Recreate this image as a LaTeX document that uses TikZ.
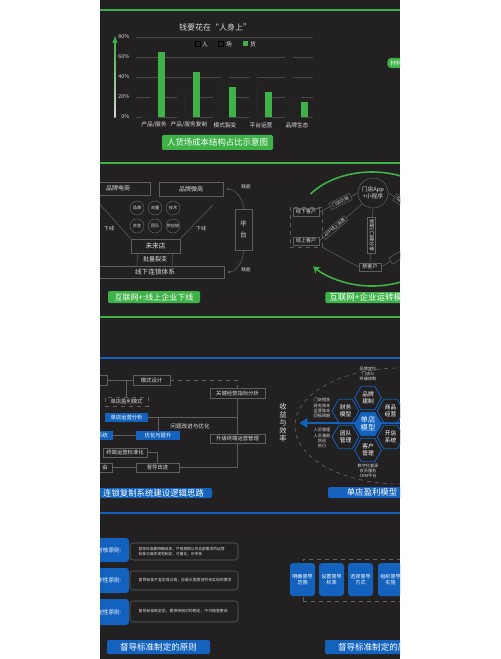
\documentclass[tikz,border=0pt]{standalone}
\usepackage{fontspec}
\setmainfont{Noto Sans CJK SC}
\usetikzlibrary{calc,shapes.geometric,arrows.meta}
\newlength\PX \setlength\PX{0.75pt}
\definecolor{bg}{RGB}{35,32,33}
\definecolor{gr}{RGB}{62,178,72}
\definecolor{bl}{RGB}{18,98,190}
\definecolor{ln}{RGB}{95,95,95}
\definecolor{tx}{RGB}{220,220,220}
\definecolor{grid}{RGB}{72,72,72}
\begin{document}
\begin{tikzpicture}[x=0.75pt,y=-0.75pt,
  fs/.style 2 args={font=\fontsize{#1}{#2}\selectfont},
  gbox/.style={draw=ln, line width=0.4pt, fill=bg, text=tx, inner sep=0pt},
  dbox/.style={gbox, dashed},
  bbox/.style={fill=bl, text=white, inner sep=0pt},
  glab/.style={fill=gr, text=white, inner sep=0pt, rounded corners=1pt},
  blab/.style={fill=bl, text=white, inner sep=0pt, rounded corners=1pt},
  conn/.style={draw=ln, line width=0.4pt},
  barc/.style={draw=grid!120, line width=0.5pt},
  hexo/.style={regular polygon, regular polygon sides=6, minimum size=27\PX, inner sep=0pt, draw=bl, line width=0.6pt, fill=bg, text=white, align=center, fs={4.3pt}{5pt}},
  ann/.style={text=tx, align=center, fs={3.1pt}{3.8pt}},
  lbl/.style={text=tx}
]
\fill[white] (0,0) rectangle (500,659);
\fill[bg] (100,0) rectangle (400,659);
\useasboundingbox (0,0) rectangle (500,659);
\begin{scope}
\clip (100,0) rectangle (400,659);

% ================= Section 1 =================
\draw[gr, line width=1.5pt] (100,10) -- (400,10);
\node[lbl, fs={6pt}{7pt}] (title) at (215,27) {钱要花在“人身上”};
\shade[bottom color=white!70!gray, top color=gr] (114.4,118) rectangle (115.6,41);
\fill[gr] (112.5,43) -- (115,36) -- (117.5,43) -- cycle;
\foreach \v in {0,20,40,60,80}{
  \draw[grid, line width=0.4pt] (136,{117-\v}) -- (313,{117-\v});
  \node[lbl, fs={4pt}{4pt}, anchor=east] (yl\v) at (134,{117-\v}) {\v\%};
}
\foreach \c/\a/\b/\g in {153/15/20/65,188/25/30/45,224/30/40/30,260/45/30/25,296/65/20/15}{
  \draw[barc, fill=bg] (\c-11,117) rectangle (\c-4,{117-\a});
  \draw[barc, fill=bg] (\c-3,117) rectangle (\c+4,{117-\b});
  \fill[gr] (\c+5,117) rectangle (\c+12,{117-\g});
}
\node[draw=grid!150, fill=bg, minimum size=5\PX, inner sep=0] (lg1) at (197.5,44) {};
\node[lbl, fs={4.3pt}{4.5pt}] (lt1) at (205,44) {人};
\node[draw=grid!150, fill=bg, minimum size=5\PX, inner sep=0] (lg2) at (221,44) {};
\node[lbl, fs={4.3pt}{4.5pt}] (lt2) at (229,44) {场};
\node[fill=gr, minimum size=5\PX, inner sep=0] (lg3) at (245.5,44) {};
\node[lbl, fs={4.3pt}{4.5pt}] (lt3) at (253,44) {货};
\node[lbl, fs={4.3pt}{4.5pt}] (k1) at (154,125) {产品/服务};
\node[lbl, fs={4.3pt}{4.5pt}] (k2) at (189,125) {产品/服务复制};
\node[lbl, fs={4.3pt}{4.5pt}] (k3) at (225,125) {模式裂变};
\node[lbl, fs={4.3pt}{4.5pt}] (k4) at (261,125) {平台运营};
\node[lbl, fs={4.3pt}{4.5pt}] (k5) at (297,125) {品牌生态};
\node[fill=gr, text=white, rounded corners=4\PX, inner xsep=3\PX, inner ysep=2.5\PX, anchor=west, fs={4.3pt}{4.5pt}] (pill) at (387,63) {材料};
\node[glab, minimum width=111\PX, minimum height=15\PX, fs={6.3pt}{7pt}] (lab1) at (217.5,142.5) {人货场成本结构占比示意图};

% ================= Section 2 =================
\draw[gr, line width=1.5pt] (100,163) -- (400,163);
\draw[gr, line width=1.5pt] (100,317) -- (400,317);
\node[gbox, minimum width=64\PX, minimum height=13\PX, fs={4.5pt}{5pt}] (dsh) at (118,188.5) {品牌电商};
\node[gbox, minimum width=64\PX, minimum height=14\PX, fs={4.5pt}{5pt}] (wsh) at (191,189) {品牌微商};
\foreach \nm/\xx/\yy/\t in {c1/137/208/品牌, c2/155/208/流量, c3/173/208/技术, c4/137/226/资金, c5/155/226/团队, c6/173/226/供应链}{
  \node[circle, gbox, minimum size=14\PX, fs={3.1pt}{3.5pt}] (\nm) at (\xx,\yy) {\t};
}
\node[lbl, fs={3.8pt}{4pt}] (xx1) at (109,229) {下线};
\node[lbl, fs={3.8pt}{4pt}] (xx2) at (201,229) {下线};
\node[gbox, minimum width=49\PX, minimum height=14\PX, fs={5pt}{5pt}] (wld) at (155.5,246) {未来店};
\node[lbl, fs={4.5pt}{5pt}] (plv) at (155,259.5) {批量裂变};
\node[gbox, minimum width=138\PX, minimum height=12\PX, fs={5pt}{5pt}] (xxl) at (155,272) {线下连锁体系};
\coordinate (dl) at (96,200);
\coordinate (dr) at (213,205);
\draw[conn] (dl) -- (wld.north west);
\draw[conn] (dr) -- (wld.north east);
\draw[conn] ($(wld.south)+(-18,0)$) -- ($(xxl.north)+(-18,0)$);
\draw[conn] ($(wld.south)+(17,0)$) -- ($(xxl.north)+(17,0)$);
\node[gbox, minimum width=17\PX, minimum height=41\PX, align=center, fs={5pt}{8pt}] (pt) at (243.5,229.5) {平\\台};
\node[lbl, fs={3.5pt}{4pt}] (fn1) at (246,187) {赋能};
\node[lbl, fs={3.5pt}{4pt}] (fn2) at (246,270) {赋能};
\draw[conn, -{Stealth[length=2.5pt]}, shorten >=3\PX] (pt.north) to[out=90, in=0] (wsh.east);
\draw[conn, -{Stealth[length=2.5pt]}, shorten >=3\PX] (pt.south) to[out=-90, in=0] (xxl.east);
\node[glab, minimum width=92\PX, minimum height=12\PX, fs={6pt}{6pt}] (lab2) at (154,297) {互联网+:线上企业下线};

% right panel
\draw[gr, line width=1.2pt] ($(372,229)+(-142:78 and 57)$) arc[start angle=-142, end angle=10, x radius=78, y radius=57];
\draw[gr, line width=1.2pt, -{Stealth[length=5pt,width=6pt]}] ($(372,229)+(20:78 and 57)$) arc[start angle=20, end angle=139, x radius=78, y radius=57];
\node[draw=ln, dashed, line width=0.4pt, minimum width=32\PX, minimum height=40\PX, inner sep=0] (dbx) at (306,227) {};
\node[gbox, minimum width=26\PX, minimum height=8\PX, fs={3.8pt}{4pt}] (xia) at (306,212) {线下客户};
\node[gbox, minimum width=26\PX, minimum height=8\PX, fs={3.8pt}{4pt}] (shang) at (306,241) {线上客户};
\node[circle, gbox, minimum size=30\PX, align=center, fs={4.3pt}{5pt}] (app) at (373,193) {门店App\\+小程序};
\node[gbox, minimum width=22\PX, minimum height=8\PX, fs={3.8pt}{4pt}] (xkh) at (370,267) {新客户};
\draw[conn] (xia.east) -- node[gbox, sloped, pos=0.55, fs={3.5pt}{4pt}, inner xsep=1.5pt, inner ysep=1pt] (mdyd) {门店引导} (app.west);
\draw[conn] (shang.east) -- node[gbox, sloped, pos=0.36, fs={3.3pt}{4pt}, inner xsep=1.2pt, inner ysep=0.8pt] (appxf) {APP线上消费} (app.south west);
\draw[conn] (app.south) -- node[gbox, rotate=-90, fs={3.8pt}{4pt}, inner xsep=1.5pt, inner ysep=1pt] (kbfx) {新职/口碑分享} (xkh.north);
\draw[conn] (dbx.south east) -- (xkh.west);
\coordinate (rr1) at (432,220);
\coordinate (rr2) at (428,238);
\draw[conn] (app.east) -- node[gbox, sloped, pos=0.25, fs={3.8pt}{4pt}, inner xsep=1.5pt, inner ysep=1pt] (q1) {Gg} (rr1);
\draw[conn] (xkh.east) -- node[gbox, sloped, pos=0.4, minimum width=22\PX, minimum height=7\PX] (q2) {} (rr2);
\node[glab, anchor=west, minimum height=11\PX, inner xsep=4\PX, fs={6.4pt}{7pt}] (lab3) at (325,297.5) {互联网+企业运转模式};

% ================= Section 3 =================
\draw[bl, line width=1.5pt] (100,358) -- (400,358);
\node[gbox, minimum width=22\PX, minimum height=10\PX] (a0) at (96,380) {};
\node[gbox, minimum width=37\PX, minimum height=10\PX, fs={4pt}{4pt}] (msjs) at (151.5,380) {模式设计};
\node[gbox, minimum width=55\PX, minimum height=10\PX, fs={4pt}{4pt}] (gjjy) at (237.5,393) {关键经营指标分析};
\node[dbox, minimum width=43\PX, minimum height=9\PX, fs={4pt}{4pt}] (dyms) at (126.5,401.5) {单店盈利模式};
\node[bbox, minimum width=43\PX, minimum height=9\PX, fs={4pt}{4pt}] (dyfx) at (126.5,417.5) {单店运营分析};
\node[bbox, anchor=east, inner xsep=5\PX, minimum height=9\PX, fs={4pt}{4pt}] (c0) at (113,435.5) {系统};
\node[bbox, minimum width=44\PX, minimum height=9\PX, fs={4pt}{4pt}] (yhts) at (158,435.5) {优化与提升};
\node[gbox, minimum width=44\PX, minimum height=9\PX, fs={4pt}{4pt}] (zdbz) at (125,452.5) {终端运营标准化};
\node[gbox, anchor=east, inner xsep=5\PX, minimum height=9\PX, fs={4pt}{4pt}] (d0) at (113,467.5) {由};
\node[gbox, minimum width=43\PX, minimum height=9\PX, fs={4pt}{4pt}] (ddgj) at (157.5,467.5) {督导改进};
\node[gbox, minimum width=55\PX, minimum height=9\PX, fs={4pt}{4pt}] (sjzd) at (237.5,438.5) {升级终端运营管理};
\node[lbl, fs={4.2pt}{4.5pt}] (wtgj) at (190,426) {问题改进与优化};
\draw[conn] (a0.east) -- (msjs.west);
\draw[conn] (dyms.north) |- (msjs.west);
\draw[conn, dashed] (msjs.east) -| (gjjy.north);
\draw[conn] (dyfx.east) -- (dyfx.east -| gjjy.south);
\draw[conn] (gjjy.south) -- (sjzd.north);
\draw[conn] (c0.east) -- (yhts.west);
\draw[conn] (yhts.north) |- (dyfx.east);
\draw[conn] (zdbz.east) -| (ddgj.north);
\draw[conn] (d0.east) -- (ddgj.west);
\draw[conn] (sjzd.south) |- (ddgj.east);
\node[blab, minimum width=117\PX, minimum height=10\PX, fs={6.3pt}{7pt}] (lab4) at (153.5,493) {连锁复制系统建设逻辑思路};

% right panel
\draw[ln, dashed, line width=0.5pt] (400,426) ellipse [x radius=105, y radius=58];
\node[lbl, align=center, fs={5.5pt}{6pt}] (syxl) at (283,423) {收\\益\\与\\效\\率};
\coordinate (arrs) at (410,423);
\draw[bl, line width=2.2pt, -{Triangle[length=6pt,width=7pt]}, shorten >=8\PX] (arrs) -- (syxl.east);
\node[hexo, fill=bl, fs={5.5pt}{6pt}] (hc) at (368,424) {单店\\模型};
\node[hexo] (h1) at (368,398) {品牌\\建制};
\node[hexo] (h2) at (345.5,411) {财务\\模型};
\node[hexo] (h3) at (345.5,437) {团队\\管理};
\node[hexo] (h4) at (368,450) {客户\\管理};
\node[hexo] (h5) at (390.5,411) {商品\\经营};
\node[hexo] (h6) at (390.5,437) {开店\\系统};
\node[ann] (n1) at (368,374) {品牌定位\\门店SI\\终端体制};
\node[ann] (n2) at (322,408) {门店租金\\财务账本\\运营账本\\回报周期};
\node[ann] (n3) at (322,438) {人员管理\\人员激励\\培训\\执行};
\node[ann] (n4) at (368,471) {数字化客源\\会员服务\\CRM平台};
\node[blab, minimum width=88\PX, minimum height=11\PX, fs={6.3pt}{7pt}] (lab5) at (372,492.5) {单店盈利模型};

% ================= Section 4 =================
\draw[bl, line width=1.5pt] (100,513) -- (400,513);
\node[bbox, rounded corners=3\PX, minimum width=44\PX, minimum height=24\PX] (p1) at (107,550) {};
\node[bbox, rounded corners=3\PX, minimum width=44\PX, minimum height=25\PX] (p2) at (107,580.5) {};
\node[bbox, rounded corners=3\PX, minimum width=44\PX, minimum height=26\PX] (p3) at (107,612) {};
\node[text=white, anchor=east, fs={4.2pt}{5pt}] (p1t) at (126,550) {可考核原则:};
\node[text=white, anchor=east, fs={4.2pt}{5pt}] (p2t) at (126,580.5) {可操作性原则:};
\node[text=white, anchor=east, fs={4.2pt}{5pt}] (p3t) at (126,612) {稳定性原则:};
\node[gbox, rounded corners=3\PX, minimum width=108\PX, minimum height=17\PX] (b1) at (184,551.5) {};
\node[gbox, rounded corners=3\PX, minimum width=108\PX, minimum height=19\PX] (b2) at (184,580.5) {};
\node[gbox, rounded corners=3\PX, minimum width=108\PX, minimum height=21\PX] (b3) at (184,611.5) {};
\node[anchor=west, text=tx, align=left, fs={2.8pt}{4pt}] (b1t) at (134,551.5) {督导标准要明确具体，严格按照公司总部要求的运营\\标准与操作规范制定，可量化，可考核};
\node[anchor=west, text=tx, fs={2.9pt}{4pt}] (b2t) at (134,580.5) {督导标准不宜定得过高，应最大限度地符合实际的要求};
\node[anchor=west, text=tx, fs={2.9pt}{4pt}] (b3t) at (134,611.5) {督导标准制定后，要保持相对的稳定，不可随意更改};
\node[blab, minimum width=103\PX, minimum height=14\PX, fs={6.4pt}{7pt}] (lab6) at (158.5,647) {督导标准制定的原则};

\node[draw=ln, dashed, line width=0.4pt, minimum width=120\PX, minimum height=42\PX, inner sep=0] (dr4) at (363,580) {};
\node[bbox, rounded corners=3\PX, minimum width=25\PX, minimum height=33\PX, align=center, fs={3.8pt}{5pt}] (r1) at (302.5,579.5) {明确督导\\范围};
\node[bbox, rounded corners=3\PX, minimum width=25\PX, minimum height=33\PX, align=center, fs={3.8pt}{5pt}] (r2) at (331.5,579.5) {设置督导\\标准};
\node[bbox, rounded corners=3\PX, minimum width=25\PX, minimum height=33\PX, align=center, fs={3.8pt}{5pt}] (r3) at (360.5,579.5) {选择督导\\方式};
\node[bbox, rounded corners=3\PX, minimum width=25\PX, minimum height=33\PX, align=center, fs={3.8pt}{5pt}] (r4) at (390.5,579.5) {组织督导\\实施};
\node[blab, minimum width=103\PX, minimum height=14\PX, fs={6.4pt}{7pt}] (lab7) at (376.5,647) {督导标准制定的原则};
\end{scope}
\end{tikzpicture}
\end{document}
